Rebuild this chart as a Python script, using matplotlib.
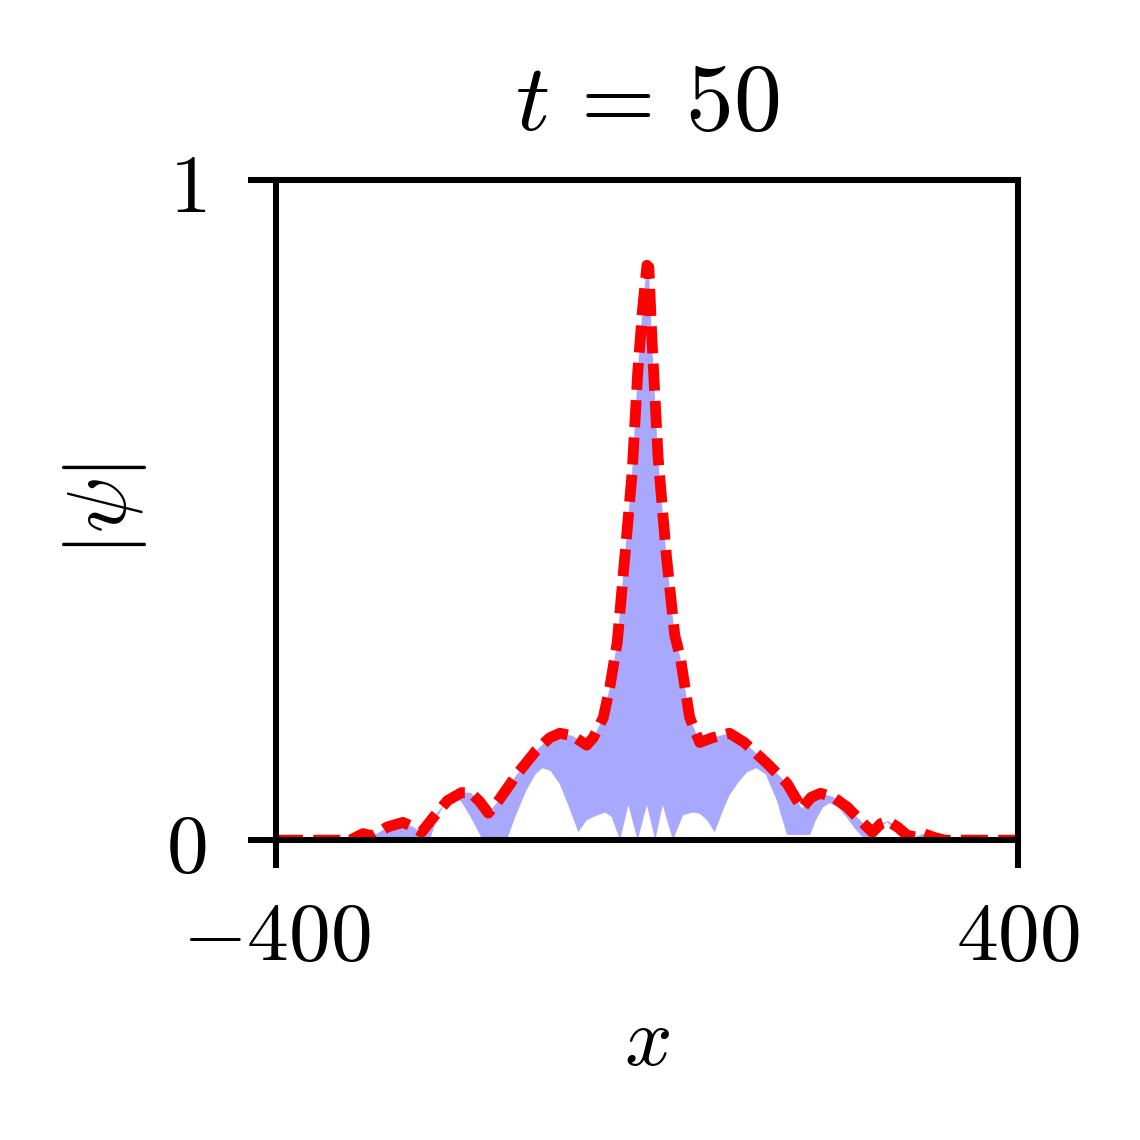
import matplotlib
matplotlib.use("Agg")
import matplotlib.pyplot as plt
import numpy as np

plt.rcParams["mathtext.fontset"] = "cm"
plt.rcParams["font.family"] = "serif"
plt.rcParams["font.serif"] = ["DejaVu Serif"]

# red dashed envelope |psi|
x_env = [-400, -320, -306, -295, -280, -263, -252, -243, -230, -215, -200,
         -190, -180, -171, -160, -140, -120, -105, -94, -80, -65, -58, -47,
         -40, -32, -27, -16, -10, -5, 0, 2, 5.4, 12, 21, 30, 36, 46, 57, 70,
         89, 105, 129, 151, 167, 177, 187, 200, 216, 230, 243, 252, 260, 270,
         281, 290, 298, 310, 321, 400]
y_env = [0, 0, 0.010, 0.006, 0.020, 0.027, 0.020, 0.012, 0.035, 0.060, 0.072,
         0.072, 0.058, 0.041, 0.060, 0.100, 0.135, 0.155, 0.162, 0.158, 0.144,
         0.155, 0.186, 0.232, 0.300, 0.379, 0.556, 0.707, 0.800, 0.871, 0.868,
         0.758, 0.580, 0.430, 0.310, 0.277, 0.186, 0.148, 0.155, 0.162, 0.148,
         0.117, 0.086, 0.048, 0.065, 0.071, 0.066, 0.050, 0.030, 0.012, 0.025,
         0.029, 0.020, 0.007, 0.005, 0.010, 0.004, 0, 0]

# lower edge of the oscillating |psi| band
x_low = [-400, -243, -234, -226, -218, -210, -200, -190, -177, -151, -142,
         -130, -120, -113, -104, -94, -84, -74, -65, -58, -45, -38, -29, -20,
         -10, 0, 9, 17, 28, 39, 50, 57, 65, 73, 82, 89, 100, 108, 118, 128,
         140, 151, 176, 182, 190, 197, 206, 215, 224, 232, 243, 250, 259, 268,
         276, 400]
y_low = [0, 0, 0, 0.035, 0.055, 0.065, 0.058, 0.035, 0, 0, 0.035, 0.075,
         0.100, 0.109, 0.105, 0.085, 0.050, 0.012, 0.030, 0.035, 0.042, 0.035,
         0, 0.053, 0, 0.053, 0, 0.053, 0, 0.038, 0.042, 0.040, 0.030, 0.012,
         0.045, 0.068, 0.090, 0.103, 0.109, 0.100, 0.060, 0.008, 0.008, 0.030,
         0.050, 0.056, 0.050, 0.035, 0.018, 0.005, 0.005, 0.020, 0.027, 0.015,
         0, 0]

fig = plt.figure(figsize=(3.8, 3.8), dpi=300)
ax = fig.add_axes([0.242, 0.263, 0.651, 0.579])

ax.fill(np.r_[x_env, x_low[::-1]], np.r_[y_env, y_low[::-1]],
        color="#a8a8ff", lw=0)
ax.plot(x_env, y_env, color="red", lw=2.6, ls=(0, (2.5, 0.95)))

ax.set_xlim(-400, 400)
ax.set_ylim(0, 1)
ax.set_xticks([-400, 400])
ax.set_xticklabels([r"$-400$", r"$400$"])
ax.set_yticks([0, 1])
ax.set_yticklabels([r"$0$", r"$1$"])
ax.tick_params(direction="out", length=6.7, width=1.45, labelsize=20, pad=7)
ax.tick_params(axis="y", pad=10)
for s in ax.spines.values():
    s.set_linewidth(1.45)

ax.set_title(r"$t\,=\,50$", fontsize=23, pad=12)
ax.set_xlabel(r"$x$", fontsize=20, labelpad=6)
ax.set_ylabel(r"$|\psi|$", fontsize=20, labelpad=4)

fig.savefig("out.png", dpi=300)
